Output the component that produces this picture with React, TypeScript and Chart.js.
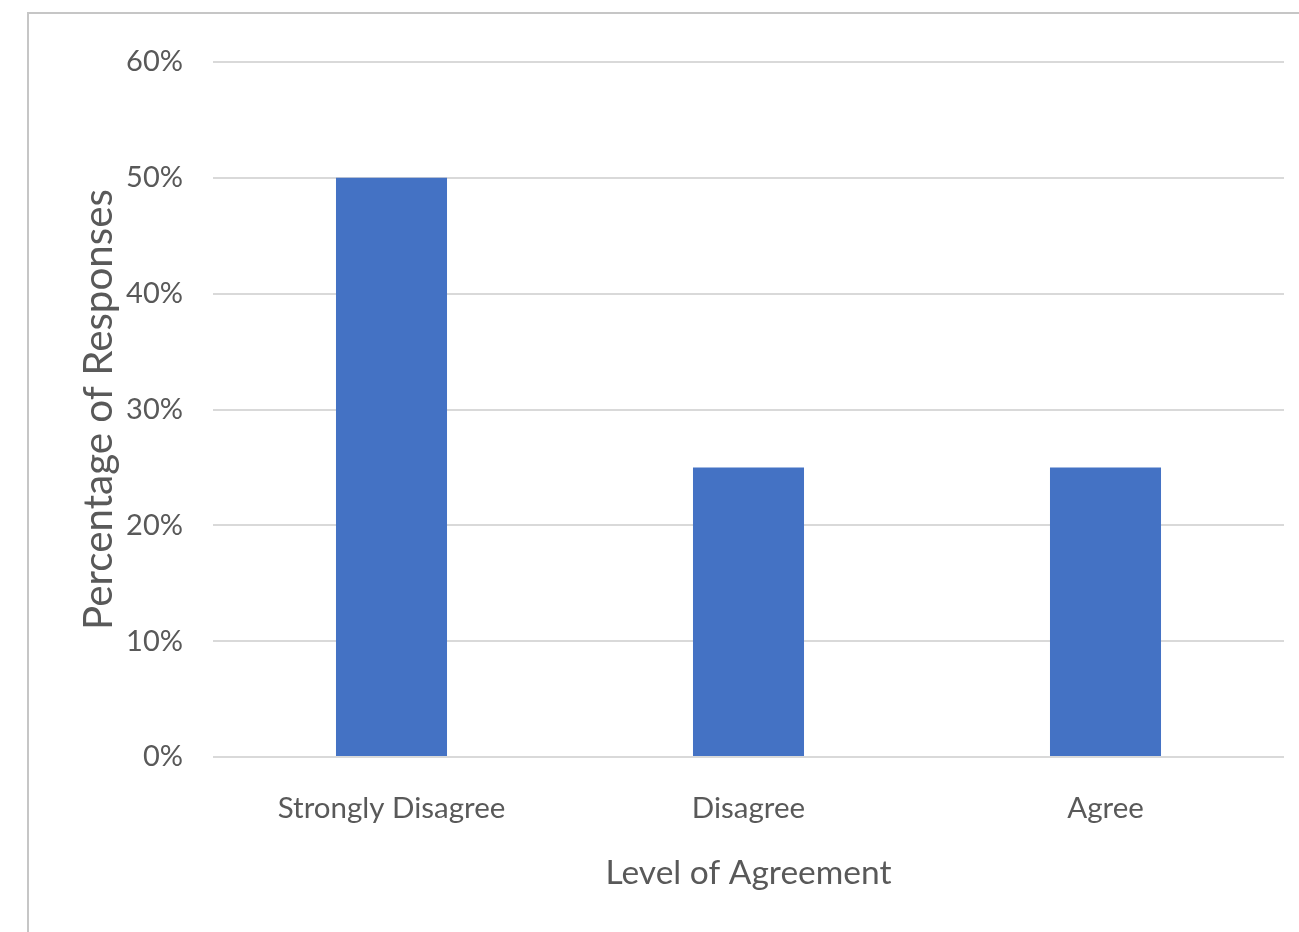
import React, { useEffect, useRef } from "react";
import { Chart, registerables } from "chart.js";

Chart.register(...registerables);

const categories = ["Strongly Disagree", "Disagree", "Agree"];
const percentages = [50, 25, 25];
const yTicks = [0, 10, 20, 30, 40, 50, 60];

const FONT = "Lato, 'Open Sans', sans-serif";
const TEXT = "#595959";

export default function App() {
  const ref = useRef<HTMLCanvasElement | null>(null);

  useEffect(() => {
    if (!ref.current) return;
    const chart = new Chart(ref.current, {
      type: "bar",
      data: {
        labels: categories,
        datasets: [
          {
            data: percentages,
            backgroundColor: "#4472C4",
            borderWidth: 0,
            categoryPercentage: 1,
            barPercentage: 0.311,
          },
        ],
      },
      options: {
        responsive: false,
        animation: false,
        layout: { padding: { top: 62, right: 15, left: 0, bottom: 0 } },
        plugins: { legend: { display: false }, tooltip: { enabled: false } },
        scales: {
          x: {
            grid: { display: false },
            border: { display: false },
            ticks: {
              color: TEXT,
              font: { family: FONT, size: 29.5 },
              padding: 26,
              maxRotation: 0,
            },
            title: {
              display: true,
              text: "Level of Agreement",
              color: TEXT,
              font: { family: FONT, size: 33.5 },
              padding: { top: 0, bottom: 39 },
            },
            afterFit: (s: any) => {
              s.height = 175;
            },
          },
          y: {
            min: 0,
            max: 60,
            afterBuildTicks: (s: any) => {
              s.ticks = yTicks.map((v) => ({ value: v }));
            },
            grid: { color: "#d9d9d9", lineWidth: 2, drawTicks: false },
            border: { display: false },
            ticks: {
              color: TEXT,
              font: { family: FONT, size: 29 },
              padding: 30,
              callback: (v: any) => v + "%",
            },
            title: {
              display: true,
              text: "Percentage of Responses",
              color: TEXT,
              font: { family: FONT, size: 40.3 },
              padding: { top: 75, bottom: 0 },
            },
            afterFit: (s: any) => {
              s.width = 213;
            },
          },
        },
      },
    });
    return () => chart.destroy();
  }, []);

  return (
    <div style={{ position: "absolute", left: 0, top: 0, width: 1299, height: 932, background: "#fff", overflow: "hidden" }}>
      <div
        style={{
          position: "absolute",
          left: 27,
          top: 12,
          width: 1400,
          height: 1000,
          borderTop: "2px solid #c6c6c6",
          borderLeft: "2px solid #c6c6c6",
        }}
      />
      <canvas ref={ref} width={1299} height={932} style={{ position: "absolute", left: 0, top: 0 }} />
    </div>
  );
}
